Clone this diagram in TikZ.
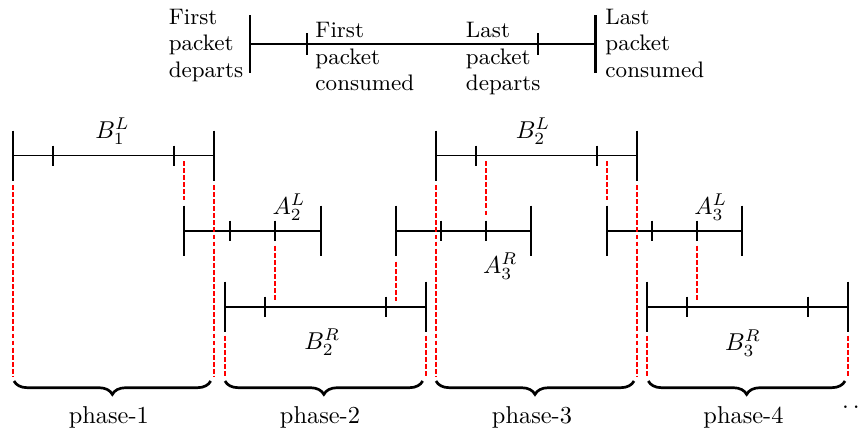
\documentclass[tikz,border=0pt]{standalone}
\usetikzlibrary{decorations.pathreplacing}
% #1 name, #2 left, #3 tick a, #4 tick b, #5 right, #6 y, #7 big half, #8 small half
\newcommand{\timebar}[8]{%
  \coordinate (#1-l) at (#2,#6);
  \coordinate (#1-a) at (#3,#6);
  \coordinate (#1-b) at (#4,#6);
  \coordinate (#1-r) at (#5,#6);
  \draw[barline] (#1-l) -- (#1-r);
  \draw[bigtick] ([yshift=#7]#1-l) -- ([yshift=-#7]#1-l);
  \draw[bigtick] ([yshift=#7]#1-r) -- ([yshift=-#7]#1-r);
  \draw[smalltick] ([yshift=#8]#1-a) -- ([yshift=-#8]#1-a);
  \draw[smalltick] ([yshift=#8]#1-b) -- ([yshift=-#8]#1-b);
}
\begin{document}
\begin{tikzpicture}[x=0.41pt,y=-0.41pt,
  barline/.style={line width=0.8pt},
  bigtick/.style={line width=0.9pt},
  smalltick/.style={line width=0.8pt},
  reddash/.style={red, line width=0.8pt, dash pattern=on 2pt off 0.9pt},
  phasebrace/.style={decorate, decoration={brace, mirror, amplitude=5.5pt}, line width=1.1pt},
  lbl/.style={inner sep=0pt, anchor=base},
  toptext/.style={inner sep=0pt, anchor=north west, align=left, font=\fontsize{9.2}{10.9}\selectfont}
]
\useasboundingbox (0,0) rectangle (865,432);

% legend timeline
\timebar{top}{250}{306.7}{538}{595.5}{44}{11.8pt}{4.5pt}
\node[toptext] (t1) at (168.3,8.5) {First\\packet\\departs};
\node[toptext] (t2) at (315,22) {First\\packet\\consumed};
\node[toptext] (t3) at (465.5,22) {Last\\packet\\departs};
\node[toptext] (t4) at (605,8.5) {Last\\packet\\consumed};

% bars
\timebar{b1l}{13.3}{53.3}{174}{214}{155.5}{10.25pt}{4.1pt}
\timebar{a2l}{184.3}{230}{275}{320.7}{230.7}{10.25pt}{4.1pt}
\timebar{b2r}{225}{265}{385.7}{426}{306.7}{10.25pt}{4.1pt}
\timebar{a3r}{395.7}{441}{486}{531}{230.7}{10.25pt}{4.1pt}
\timebar{b2l}{435.7}{475.7}{596.7}{636.7}{155.5}{10.25pt}{4.1pt}
\timebar{a3l}{606.7}{651.7}{697.3}{742.3}{230.7}{10.25pt}{4.1pt}
\timebar{b3r}{647.3}{687.3}{808.3}{848.3}{306.7}{10.25pt}{4.1pt}

% labels
\node[lbl] (lb1l) at (112.5,138) {$B_1^L$};
\node[lbl] (la2l) at (289,214) {$A_2^L$};
\node[lbl] (lb2l) at (533,138) {$B_2^L$};
\node[lbl] (la3l) at (710.7,214) {$A_3^L$};
\node[lbl] (la3r) at (500.3,273) {$A_3^R$};
\node[lbl] (lb2r) at (322.3,349) {$B_2^R$};
\node[lbl] (lb3r) at (743,350) {$B_3^R$};

% red dashed projections
\draw[reddash] (b1l-l |- 0,185) -- (b1l-l |- 0,377);
\draw[reddash] (b1l-r |- 0,185) -- (b1l-r |- 0,377);
\draw[reddash] (b2l-l |- 0,185) -- (b2l-l |- 0,377);
\draw[reddash] (b2l-r |- 0,185) -- (b2l-r |- 0,377);
\draw[reddash] (a2l-l |- 0,161) -- (a2l-l |- 0,200);
\draw[reddash] (a3l-l |- 0,161) -- (a3l-l |- 0,200);
\draw[reddash] (a3r-b |- 0,161) -- (a3r-b |- 0,216);
\draw[reddash] (a2l-b |- 0,245.7) -- (a2l-b |- 0,301);
\draw[reddash] (a3l-b |- 0,245.7) -- (a3l-b |- 0,301);
\draw[reddash] (a3r-l |- 0,261.7) -- (a3r-l |- 0,301);
\draw[reddash] (b2r-l |- 0,335.7) -- (b2r-l |- 0,377);
\draw[reddash] (b2r-r |- 0,335.7) -- (b2r-r |- 0,377);
\draw[reddash] (b3r-l |- 0,335.7) -- (b3r-l |- 0,377);
\draw[reddash] (b3r-r |- 0,335.7) -- (b3r-r |- 0,377);

% phase braces
\coordinate (p1s) at (14,381);   \coordinate (p1e) at (210.7,381);
\coordinate (p2s) at (225,381);  \coordinate (p2e) at (422.7,381);
\coordinate (p3s) at (436,381);  \coordinate (p3e) at (634,381);
\coordinate (p4s) at (648.3,381);\coordinate (p4e) at (845,381);
\draw[phasebrace] (p1s) -- (p1e);
\draw[phasebrace] (p2s) -- (p2e);
\draw[phasebrace] (p3s) -- (p3e);
\draw[phasebrace] (p4s) -- (p4e);
\node[lbl] (ph1) at (108.8,423.7) {phase-1};
\node[lbl] (ph2) at (320,423.7) {phase-2};
\node[lbl] (ph3) at (532,423.7) {phase-3};
\node[lbl] (ph4) at (743.5,423.7) {phase-4};
\node[inner sep=0pt, anchor=base west] (dots) at (841.6,408) {.\kern1.67pt.};
\end{tikzpicture}
\end{document}
